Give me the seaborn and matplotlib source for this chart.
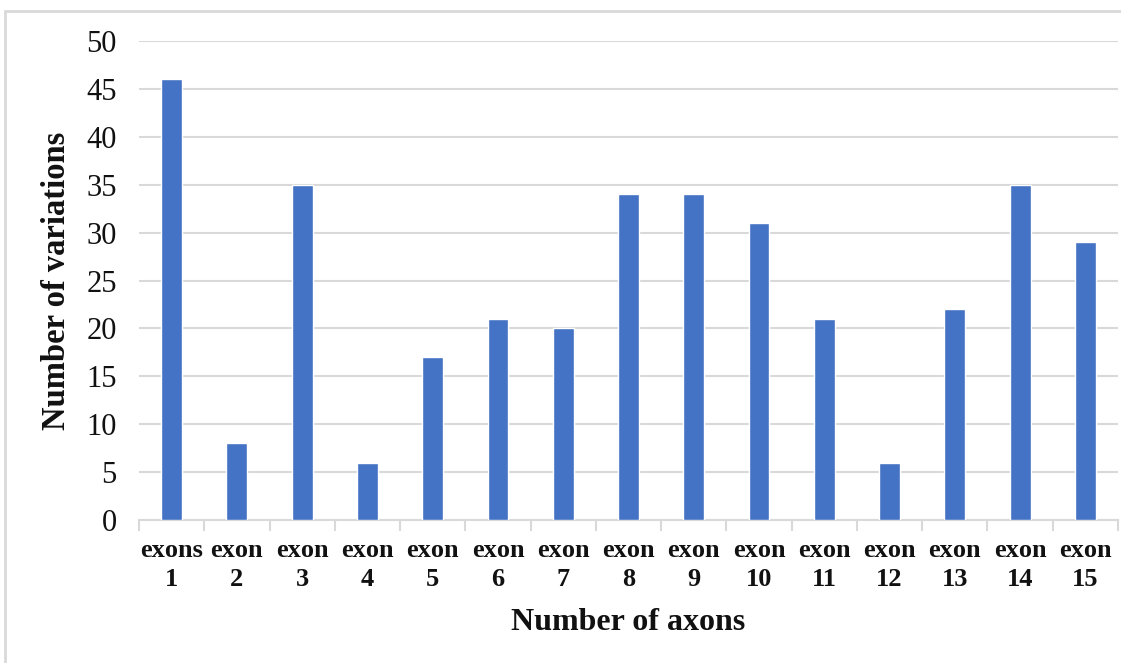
import matplotlib
matplotlib.use("Agg")
import matplotlib.pyplot as plt
import seaborn as sns
import pandas as pd
from matplotlib.patches import Rectangle

categories = ["exons\n1", "exon\n2", "exon\n3", "exon\n4", "exon\n5", "exon\n6", "exon\n7",
              "exon\n8", "exon\n9", "exon\n10", "exon\n11", "exon\n12", "exon\n13",
              "exon\n14", "exon\n15"]
values = [46, 8, 35, 6, 17, 21, 20, 34, 34, 31, 21, 6, 22, 35, 29]
yticks = [0, 5, 10, 15, 20, 25, 30, 35, 40, 45, 50]

sns.set_theme(style="white")
plt.rcParams['font.family'] = ['Liberation Serif', 'DejaVu Serif']

df = pd.DataFrame({"cat": categories, "val": values})

fig = plt.figure(figsize=(11.21, 6.63), dpi=100)
ax = fig.add_axes([139/1121, 1-520/663, (1118-139)/1121, (520-41)/663])

# outer border
fig.patches.append(Rectangle((5/1121, -0.1), 1.2, 1-11/663+0.1, transform=fig.transFigure,
                             fill=False, edgecolor="#d9d9d9", linewidth=2, zorder=0))

sns.barplot(data=df, x="cat", y="val", color="#4472C4", width=0.32, ax=ax,
            saturation=1, zorder=3)

ax.set_ylim(0, 50)
ax.set_xlim(-0.5, len(categories)-0.5)
ax.set_yticks(yticks)
ax.set_yticklabels([str(t) for t in yticks], fontsize=22, color="#111111")
ax.yaxis.grid(True, color="#d9d9d9", linewidth=1.5, zorder=0)
ax.set_axisbelow(True)
for s in ["top", "right", "left"]:
    ax.spines[s].set_visible(False)
ax.spines["bottom"].set_color("#d9d9d9")
ax.spines["bottom"].set_linewidth(1.5)

ax.tick_params(axis="y", length=0, pad=16)
ax.tick_params(axis="x", which="major", length=0, pad=14)
ax.set_xticks(range(len(categories)))
ax.set_xticklabels(categories, fontsize=19, fontweight="bold", linespacing=1.3, color="#111111")
ax.set_xticks([i + 0.5 for i in range(-1, len(categories))], minor=True)
ax.tick_params(axis="x", which="minor", length=8, width=1.5, color="#d9d9d9", bottom=True)

ax.set_xlabel("Number of axons", fontsize=23, fontweight="bold", labelpad=12, color="#111111")
ax.set_ylabel("Number of variations", fontsize=23.5, fontweight="bold", labelpad=10, color="#111111")

fig.savefig("out.png", dpi=100)
